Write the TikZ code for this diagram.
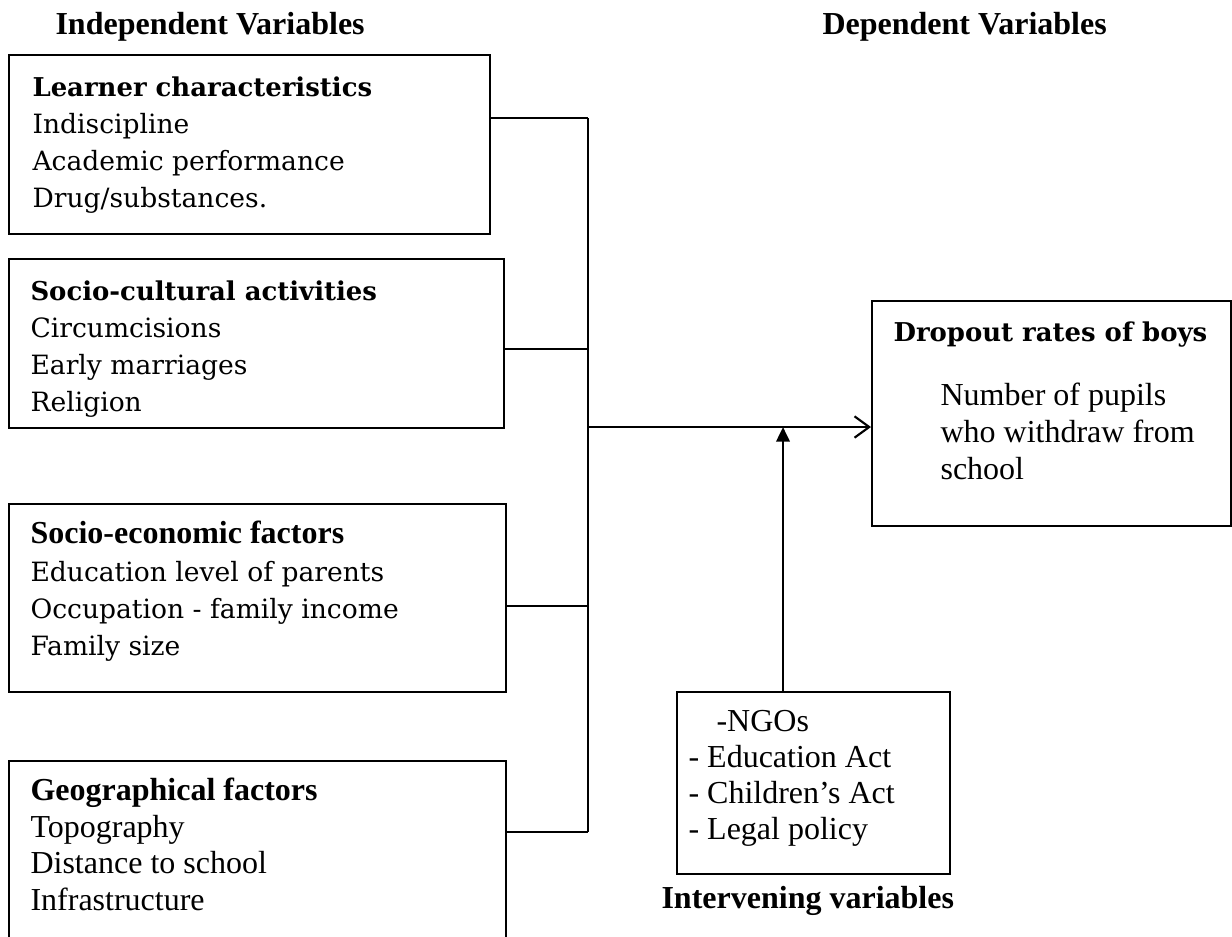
\documentclass[tikz,border=0pt]{standalone}
\usepackage{fontspec}
\setmainfont{Liberation Serif}
\newfontfamily\cam{DejaVu Serif}[Scale=0.83]
\newfontfamily\camb{DejaVu Serif Bold}[Scale=0.81]
\newcommand\twelve{\fontsize{12pt}{14pt}\selectfont}
\usetikzlibrary{arrows.meta}
\begin{document}
\begin{tikzpicture}[x=0.375pt,y=-0.375pt,
  box/.style={draw,line width=0.75pt,inner sep=0pt,anchor=north west},
  txt/.style={anchor=base west,inner sep=0pt,font=\twelve},
  btxt/.style={anchor=base west,inner sep=0pt,font=\twelve\bfseries},
  ctxt/.style={anchor=base west,inner sep=0pt,font=\twelve\cam},
  cbtxt/.style={anchor=base west,inner sep=0pt,font=\twelve\camb},
  conn/.style={line width=0.75pt},
  mainarrow/.style={line width=1pt,-{Straight Barb[length=5.5pt,width=8pt,line width=0.8pt]}},
  uparrow/.style={line width=1pt,-{Triangle[length=5.5pt,width=5pt]}}]
\useasboundingbox (0,0) rectangle (1232,936);
\clip (0,0) rectangle (1232,936);

% titles
\node[btxt] (tI) at (55,34) {Independent Variables};
\node[btxt] (tD) at (822,34) {Dependent Variables};

% box 1
\node[box,minimum width=180.375pt,minimum height=67.125pt] (lc) at (8,54) {};
\node[cbtxt] (lc0) at (32,96) {Learner characteristics};
\node[ctxt] (lc1) at (32,133) {Indiscipline};
\node[ctxt] (lc2) at (32,170) {Academic performance};
\node[ctxt] (lc3) at (32,207) {Drug/substances.};

% box 2
\node[box,minimum width=185.625pt,minimum height=63.375pt] (sc) at (8,258) {};
\node[cbtxt] (sc0) at (30,300) {Socio-cultural activities};
\node[ctxt] (sc1) at (30,337) {Circumcisions};
\node[ctxt] (sc2) at (30,374) {Early marriages};
\node[ctxt] (sc3) at (30,411) {Religion};

% box 3
\node[box,minimum width=186.375pt,minimum height=70.5pt] (se) at (8,503) {};
\node[btxt] (se0) at (30,543) {Socio-economic factors};
\node[ctxt] (se1) at (30,581) {Education level of parents};
\node[ctxt] (se2) at (30,618) {Occupation - family income};
\node[ctxt] (se3) at (30,655) {Family size};

% box 4
\node[box,minimum width=186.375pt,minimum height=71.25pt] (gf) at (8,760) {};
\node[btxt] (gf0) at (30,800) {Geographical factors};
\node[txt] (gf1) at (30,837) {Topography};
\node[txt] (gf2) at (30,873) {Distance to school};
\node[txt] (gf3) at (30,910) {Infrastructure};

% dependent box
\node[box,minimum width=134.625pt,minimum height=84.375pt] (dr) at (871,300) {};
\node[cbtxt] (dr0) at (893,341) {Dropout rates of boys};
\node[txt] (dr1) at (940,405) {Number of pupils};
\node[txt] (dr2) at (940,442) {who withdraw from};
\node[txt] (dr3) at (940,479) {school};

% intervening box
\node[box,minimum width=102.375pt,minimum height=68.25pt] (ib) at (676,691) {};
\node[txt] (ib0) at (716,731) {-NGOs};
\node[txt] (ib1) at (688,767) {- Education Act};
\node[txt] (ib2) at (688,803) {- Children’s Act};
\node[txt] (ib3) at (688,839) {- Legal policy};
\node[btxt] (ibl) at (661,908) {Intervening variables};

% connectors
\coordinate (j1) at (588,118);
\coordinate (j2) at (588,349);
\coordinate (j3) at (588,606);
\coordinate (j4) at (588,832);
\coordinate (jm) at (588,427);
\coordinate (iv) at (783,427);
\draw[conn] (j1) -- (j4);
\draw[conn] (lc.east |- j1) -- (j1);
\draw[conn] (sc.east |- j2) -- (j2);
\draw[conn] (se.east |- j3) -- (j3);
\draw[conn] (gf.east |- j4) -- (j4);
\draw[mainarrow] (jm) -- (dr.west |- jm);
\draw[uparrow] (ib.north -| iv) -- (iv);
\end{tikzpicture}
\end{document}
